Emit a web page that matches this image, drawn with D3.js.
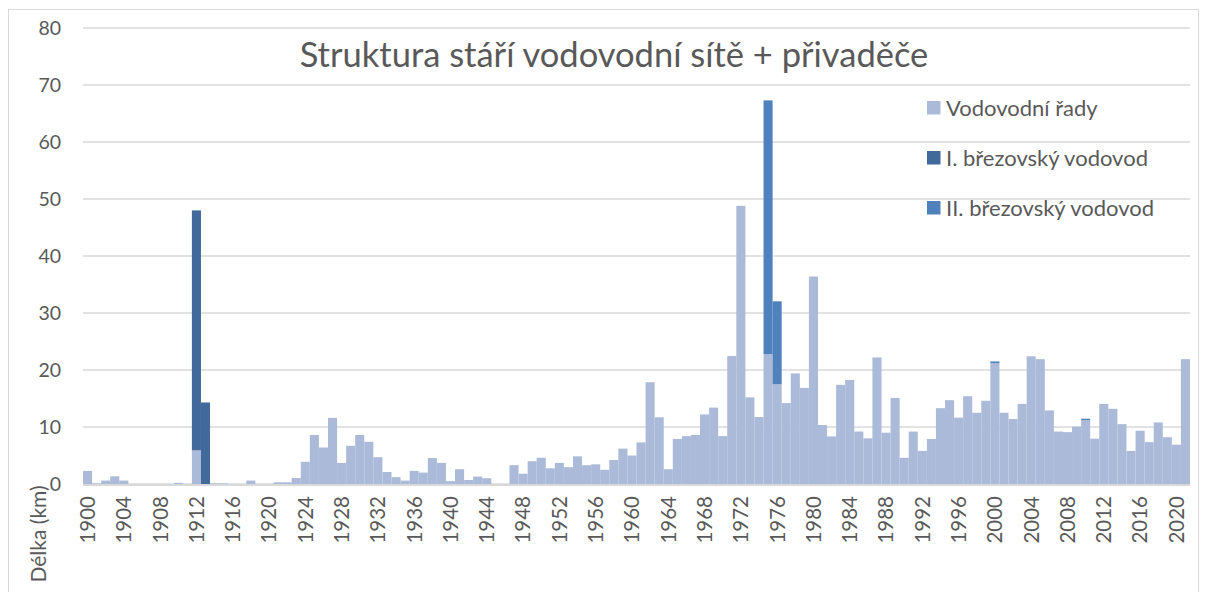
<!DOCTYPE html>
<html lang="cs">
<head>
<meta charset="utf-8">
<title>Struktura stáří vodovodní sítě</title>
<script src="https://cdn.jsdelivr.net/npm/d3@7"></script>
<style>
body { margin: 0; background: #fff; }
svg text { font-family: Lato, 'Open Sans', sans-serif; fill: #595959; }
.grid line { stroke: #d9d9d9; stroke-width: 1.5; }
</style>
</head>
<body>
<svg id="chart" width="1208" height="592"></svg>
<script>
// years 1900..2021
var years = d3.range(1900, 2022);

var rady = [
  2.3, 0.1, 0.6, 1.35, 0.6, 0, 0, 0, 0, 0,          // 1900-1909
  0.2, 0, 5.9, 0, 0.1, 0.1, 0, 0, 0.6, 0,           // 1910-1919
  0, 0.3, 0.3, 1.05, 3.9, 8.6, 6.4, 11.6, 3.7, 6.7, // 1920-1929
  8.6, 7.4, 4.7, 2.1, 1.2, 0.6, 2.3, 2.0, 4.55, 3.7,// 1930-1939
  0.5, 2.6, 0.7, 1.3, 1.0, 0, 0, 3.3, 1.8, 4.0,     // 1940-1949
  4.6, 2.75, 3.7, 2.95, 4.85, 3.3, 3.45, 2.5, 4.2, 6.2, // 1950-1959
  5.0, 7.3, 17.85, 11.7, 2.6, 7.9, 8.4, 8.6, 12.2, 13.4, // 1960-1969
  8.4, 22.45, 48.8, 15.2, 11.75, 22.8, 17.5, 14.2, 19.4, 16.85, // 1970-1979
  36.4, 10.35, 8.35, 17.4, 18.25, 9.2, 8.0, 22.2, 9.0, 15.1, // 1980-1989
  4.6, 9.2, 5.8, 7.9, 13.3, 14.7, 11.65, 15.4, 12.5, 14.6, // 1990-1999
  21.2, 12.5, 11.4, 14.05, 22.4, 21.9, 12.9, 9.2, 9.1, 10.05, // 2000-2009
  11.2, 7.95, 14.05, 13.2, 10.5, 5.8, 9.35, 7.35, 10.8, 8.2, // 2010-2019
  6.9, 21.9                                          // 2020-2021
];

// přivaděče, only non-zero years
var brezovI = { 1912: 42.1, 1913: 14.3 };
var brezovII = { 1975: 44.5, 1976: 14.55, 2000: 0.3, 2010: 0.25 };

var seriesNames = ["Vodovodní řady", "I. březovský vodovod", "II. březovský vodovod"];
var colors = ["#abbad8", "#41699c", "#4f81bd"];
var yTicks = [0, 10, 20, 30, 40, 50, 60, 70, 80];

var table = years.map(function(y, i) {
  return { year: y, a: rady[i], b: brezovI[y] || 0, c: brezovII[y] || 0 };
});

var svg = d3.select("#chart");

// frame
svg.append("rect")
  .attr("x", 8.5).attr("y", 9.5)
  .attr("width", 1190).attr("height", 600)
  .attr("fill", "none").attr("stroke", "#d9d9d9");

var x = d3.scaleBand()
  .domain(years)
  .range([83, 1190])
  .padding(0);

var y = d3.scaleLinear()
  .domain([0, 80])
  .range([484, 28]);

// gridlines
svg.append("g").attr("class", "grid")
  .selectAll("line").data(yTicks).enter().append("line")
  .attr("x1", 83).attr("x2", 1190)
  .attr("y1", function(d) { return y(d); })
  .attr("y2", function(d) { return y(d); });

// y labels
svg.append("g").selectAll("text").data(yTicks).enter().append("text")
  .attr("x", 61)
  .attr("y", function(d) { return y(d); })
  .attr("dy", "0.36em")
  .attr("text-anchor", "end")
  .style("font-size", "19.5px")
  .text(function(d) { return d; });

// stacked bars
var stack = d3.stack().keys(["a", "b", "c"]);
var layers = stack(table);

svg.append("g").selectAll("g").data(layers).enter().append("g")
  .attr("fill", function(d, i) { return colors[i]; })
  .selectAll("rect").data(function(d) { return d; }).enter().append("rect")
  .attr("x", function(d) { return x(d.data.year); })
  .attr("width", x.bandwidth())
  .attr("y", function(d) { return y(d[1]); })
  .attr("height", function(d) { return y(d[0]) - y(d[1]); });

// axis base line
svg.append("line")
  .attr("x1", 83).attr("x2", 1190)
  .attr("y1", 485).attr("y2", 485)
  .attr("stroke", "#d9d9d9").attr("stroke-width", 2);

// x labels every 4 years
var xTicks = years.filter(function(d) { return (d - 1900) % 4 == 0; });
svg.append("g").selectAll("text").data(xTicks).enter().append("text")
  .attr("transform", function(d) {
    return "translate(" + (x(d) + x.bandwidth() / 2) + ",496) rotate(-90)";
  })
  .attr("dy", "0.36em")
  .attr("text-anchor", "end")
  .style("font-size", "20.5px")
  .text(function(d) { return d; });

// axis title
svg.append("text")
  .attr("transform", "translate(38,534) rotate(-90)")
  .attr("dy", "0.36em")
  .attr("text-anchor", "middle")
  .style("font-size", "21px")
  .text("Délka (km)");

// title
svg.append("text")
  .attr("x", 614).attr("y", 67)
  .attr("text-anchor", "middle")
  .style("font-size", "34.5px")
  .text("Struktura stáří vodovodní sítě + přivaděče");

// legend
var legend = svg.append("g").selectAll("g").data(seriesNames).enter().append("g")
  .attr("transform", function(d, i) { return "translate(927," + (108 + i * 50) + ")"; });

legend.append("rect")
  .attr("x", 0).attr("y", -7)
  .attr("width", 13.5).attr("height", 13.5)
  .attr("fill", function(d, i) { return colors[i]; });

legend.append("text")
  .attr("x", 19)
  .attr("dy", "0.36em")
  .style("font-size", "22px")
  .text(function(d) { return d; });
</script>
</body>
</html>
